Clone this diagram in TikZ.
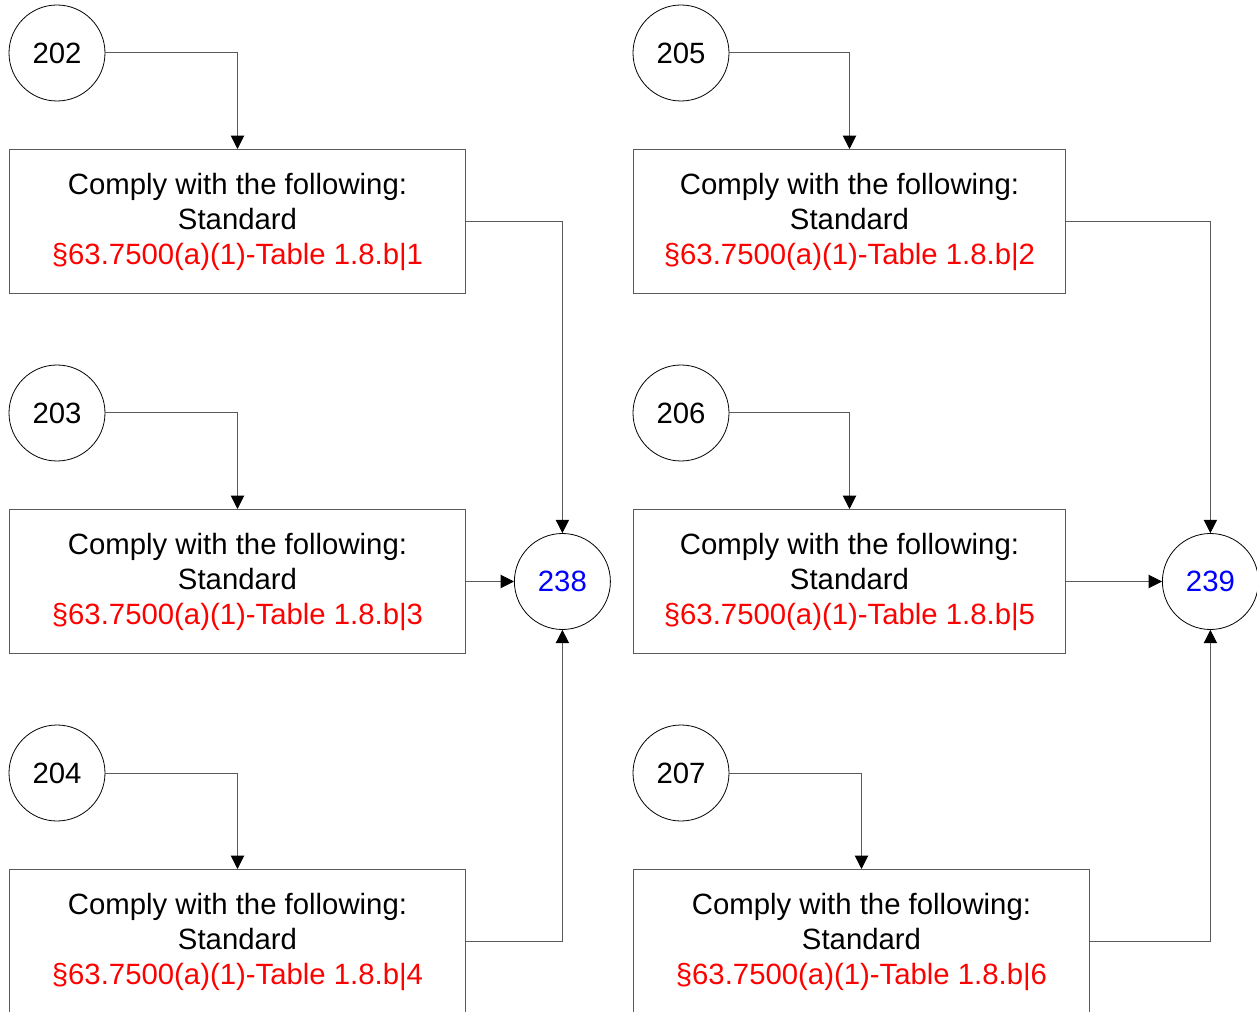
\documentclass[tikz,border=0pt]{standalone}
\usepackage{fontspec}
\setmainfont{Liberation Sans}
\usepackage{xcolor}
\usepackage{tikz}
\usetikzlibrary{arrows.meta, positioning}
\definecolor{linegray}{RGB}{90,90,90}
\definecolor{refred}{RGB}{255,0,0}
\definecolor{refblue}{RGB}{0,0,255}
\tikzstyle{refcircle} = [draw=black, circle, minimum size=72pt, inner sep=0pt, line width=0.6pt, font=\fontsize{22pt}{26.25pt}\selectfont]
\tikzstyle{stdbox} = [draw=linegray, rectangle, minimum width=342pt, minimum height=108pt, inner sep=0pt, align=center, line width=0.75pt, font=\fontsize{22pt}{26.25pt}\selectfont]
\tikzstyle{arrow} = [draw=linegray, line width=0.75pt, -{Triangle[length=10pt, width=10pt, color=black]}]
\newcommand{\stdtext}[1]{Comply with the following:\\Standard\\\textcolor{refred}{§63.7500(a)(1)-Table 1.8.b|#1}}

\begin{document}
\begin{tikzpicture}[x=0.75pt, y=-0.75pt]
    \useasboundingbox (0,0) rectangle (1257,1012);
    % left column
    \node [refcircle] (c202) at (57,53) {202};
    \node [refcircle] (c203) at (57,413) {203};
    \node [refcircle] (c204) at (57,773) {204};
    \node [stdbox, anchor=north west] (b202) at (9,149) {\stdtext{1}};
    \node [stdbox, anchor=north west] (b203) at (9,509) {\stdtext{3}};
    \node [stdbox, anchor=north west] (b204) at (9,869) {\stdtext{4}};
    \node [refcircle, right=36pt of b203, text=refblue] (c238) {238};
    % right column
    \node [refcircle] (c205) at (681,53) {205};
    \node [refcircle] (c206) at (681,413) {206};
    \node [refcircle] (c207) at (681,773) {207};
    \node [stdbox, anchor=north west, minimum width=324pt] (b205) at (633,149) {\stdtext{2}};
    \node [stdbox, anchor=north west, minimum width=324pt] (b206) at (633,509) {\stdtext{5}};
    \node [stdbox, anchor=north west] (b207) at (633,869) {\stdtext{6}};
    \node [refcircle, right=72pt of b206, text=refblue] (c239) {239};
    % connectors
    \draw [arrow] (c202.east) -| (b202.north);
    \draw [arrow] (c203.east) -| (b203.north);
    \draw [arrow] (c204.east) -| (b204.north);
    \draw [arrow] (b202.east) -| (c238.north);
    \draw [arrow] (b203.east) -- (c238.west);
    \draw [arrow] (b204.east) -| (c238.south);
    \draw [arrow] (c205.east) -| (b205.north);
    \draw [arrow] (c206.east) -| (b206.north);
    \draw [arrow] (c207.east) -| (b207.north);
    \draw [arrow] (b205.east) -| (c239.north);
    \draw [arrow] (b206.east) -- (c239.west);
    \draw [arrow] (b207.east) -| (c239.south);
\end{tikzpicture}
\end{document}
